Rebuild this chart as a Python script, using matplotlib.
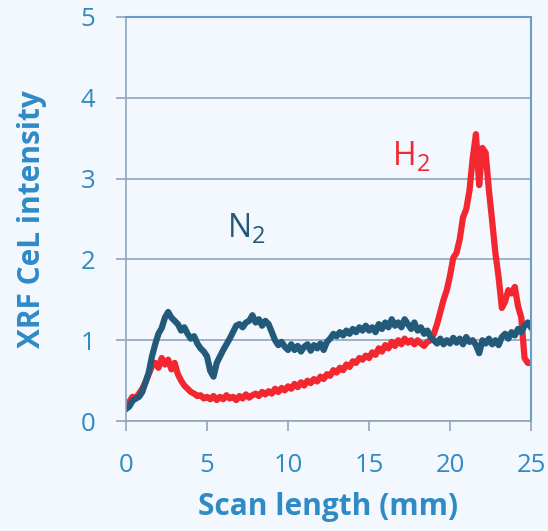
import numpy as np
import matplotlib.pyplot as plt

step_mm = 0.2
n2 = [0.15, 0.18, 0.25, 0.28, 0.30, 0.36, 0.48, 0.60, 0.80, 0.95,
      1.08, 1.15, 1.28, 1.35, 1.28, 1.24, 1.20, 1.12, 1.16, 1.08,
      1.02, 1.05, 0.96, 0.90, 0.86, 0.80, 0.62, 0.55, 0.72, 0.80,
      0.88, 0.95, 1.02, 1.10, 1.18, 1.20, 1.16, 1.22, 1.24, 1.31,
      1.22, 1.26, 1.18, 1.24, 1.20, 1.10, 1.00, 0.94, 0.98, 0.92,
      0.88, 0.95, 0.88, 0.93, 0.86, 0.92, 0.95, 0.87, 0.94, 0.90,
      0.96, 0.88, 0.98, 1.02, 1.08, 1.05, 1.10, 1.06, 1.12, 1.08,
      1.14, 1.10, 1.16, 1.12, 1.18, 1.12, 1.16, 1.10, 1.20, 1.14,
      1.22, 1.16, 1.26, 1.18, 1.22, 1.16, 1.26, 1.20, 1.14, 1.22,
      1.12, 1.16, 1.08, 1.12, 1.04, 1.00, 0.96, 1.02, 0.95, 1.00,
      0.96, 1.03, 0.97, 1.02, 0.95, 1.04, 0.98, 1.00, 0.94, 0.84,
      1.00, 0.96, 1.02, 0.95, 1.00, 0.94, 1.04, 1.08, 1.02, 1.10,
      1.06, 1.14, 1.10, 1.18, 1.22, 1.16]
h2 = [0.20, 0.24, 0.30, 0.28, 0.34, 0.40, 0.48, 0.58, 0.68, 0.72,
      0.66, 0.78, 0.70, 0.76, 0.64, 0.72, 0.58, 0.50, 0.44, 0.40,
      0.36, 0.34, 0.31, 0.32, 0.28, 0.30, 0.27, 0.31, 0.26, 0.30,
      0.27, 0.32, 0.28, 0.30, 0.26, 0.31, 0.28, 0.33, 0.29, 0.32,
      0.34, 0.31, 0.36, 0.33, 0.37, 0.34, 0.40, 0.36, 0.41, 0.38,
      0.43, 0.40, 0.46, 0.42, 0.48, 0.44, 0.50, 0.47, 0.52, 0.49,
      0.55, 0.52, 0.58, 0.56, 0.63, 0.60, 0.66, 0.63, 0.70, 0.67,
      0.74, 0.72, 0.78, 0.76, 0.81, 0.78, 0.85, 0.82, 0.90, 0.86,
      0.94, 0.90, 0.98, 0.93, 1.00, 0.95, 1.02, 0.97, 1.00, 0.95,
      1.00, 0.96, 0.93, 0.98, 1.00, 1.08, 1.20, 1.35, 1.50, 1.62,
      1.80, 2.02, 2.08, 2.25, 2.52, 2.62, 2.85, 3.25, 3.55, 2.92,
      3.38, 3.32, 2.86, 2.48, 2.08, 1.78, 1.40, 1.48, 1.62, 1.58,
      1.66, 1.42, 1.28, 0.78, 0.72, 0.72]
scan_mm = np.arange(len(n2)) * step_mm

blue = '#2f8ac6'
grid_c = '#8fa4bf'
n2_c = '#245a79'
h2_c = '#f2272f'
plt.rcParams['font.family'] = ['Open Sans', 'DejaVu Sans']

fig = plt.figure(figsize=(5.48, 5.31), dpi=100, facecolor='#f2f8fe')
ax = fig.add_axes([0.230, 0.207, 0.739, 0.761])
ax.set_facecolor('#f2f8fe')

ax.plot(scan_mm, h2, color=h2_c, lw=4.5, solid_joinstyle='round')
ax.plot(scan_mm, n2, color=n2_c, lw=4.5, solid_joinstyle='round')

# gas labels: big letter plus a lowered "2"
for letter, x0, y0, c in [('N', 6.3, 2.38, n2_c), ('H', 16.5, 3.27, h2_c)]:
    t = ax.text(x0, y0, letter, color=c, fontsize=23, ha='left', va='center')
    ax.annotate('2', xy=(x0, y0), xytext=(17, -6), textcoords='offset points',
                color=c, fontsize=17, ha='left', va='center')

ax.set_xlim(0, 25)
ax.set_ylim(0, 5)
ax.set_xticks([0, 5, 10, 15, 20, 25])
ax.set_yticks([0, 1, 2, 3, 4, 5])
ax.yaxis.grid(True, color=grid_c, lw=1.2)
ax.set_axisbelow(True)
ax.tick_params(colors=grid_c, labelcolor=blue, labelsize=18.5, length=7, width=1.2)
ax.tick_params(axis='x', pad=16)
ax.tick_params(axis='y', pad=15)
for side in ['left', 'bottom']:
    ax.spines[side].set_color(grid_c)
    ax.spines[side].set_linewidth(1.2)
for side in ['top', 'right']:
    ax.spines[side].set_color('#6a9ec8')
    ax.spines[side].set_linewidth(1.5)

ax.set_xlabel('Scan length (mm)', color=blue, fontsize=21.5, fontweight='bold', labelpad=10)
ax.set_ylabel('XRF CeL intensity', color=blue, fontsize=21.5, fontweight='bold', labelpad=24)

fig.savefig('out.png', dpi=100, facecolor=fig.get_facecolor())
